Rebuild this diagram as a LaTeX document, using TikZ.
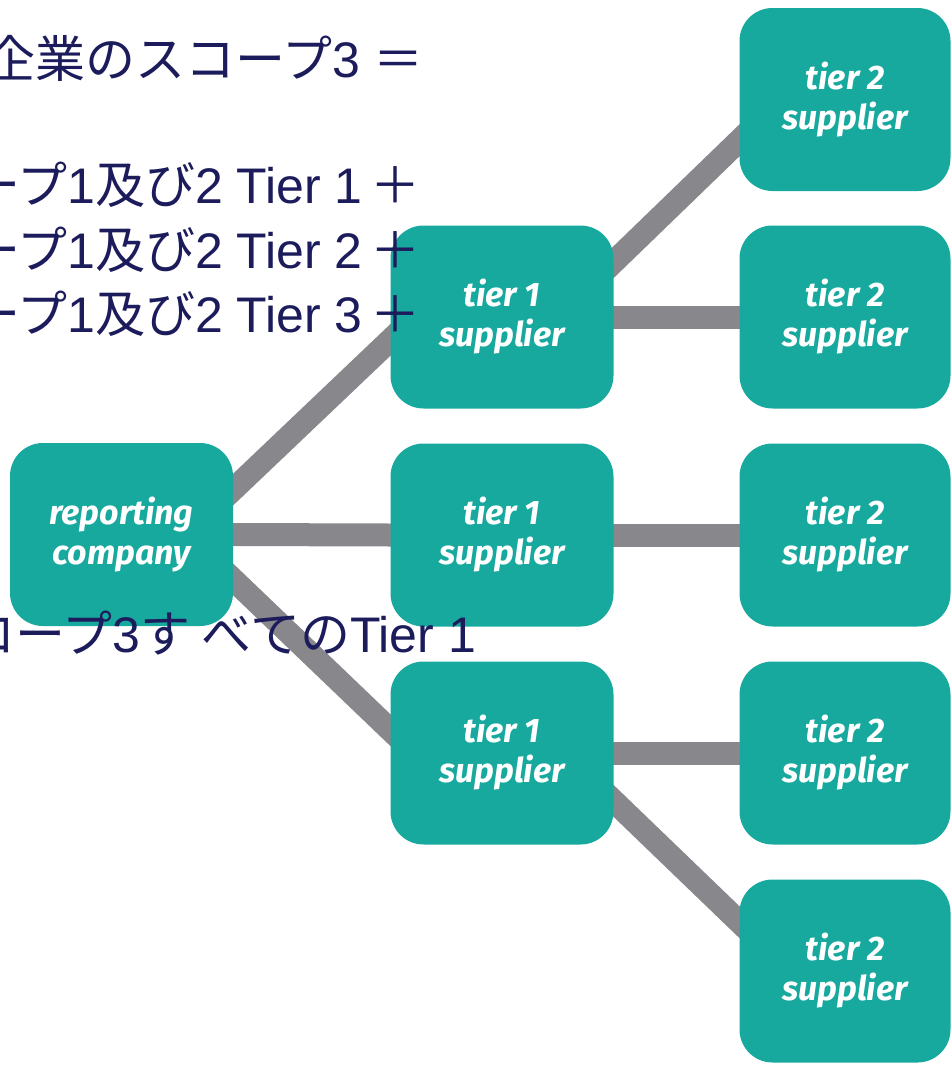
\documentclass[tikz,border=0pt]{standalone}
\usepackage{fontspec}
\usepackage{tikz}
\usetikzlibrary{backgrounds}
\setmainfont{Liberation Sans}
\newfontfamily\jpfont{Noto Sans CJK JP}
\newfontfamily\boxfont{Fira Sans}
\definecolor{boxteal}{RGB}{23, 169, 158}
\definecolor{linkgray}{RGB}{136, 136, 140}
\definecolor{textnavy}{RGB}{28, 28, 92}

\begin{document}
\begin{tikzpicture}[x=1pt,y=-1pt,
  supplier/.style={rectangle, rounded corners=33pt, fill=boxteal, text=white,
    minimum width=223pt, minimum height=183pt, inner sep=0pt, align=center,
    font=\boxfont\bfseries\itshape\fontsize{34}{40}\selectfont},
  link/.style={draw=linkgray, line width=23pt},
  note/.style={anchor=base west, inner sep=0pt, text=textnavy,
    font=\fontsize{50}{60}\selectfont}]
\useasboundingbox (0,0) rectangle (951,1066);
\clip (0,0) rectangle (951,1066);

% Reporting company
\node[supplier] (rc) at (121.5,534.5) {reporting\\company};

% Tier 1 suppliers
\node[supplier] (t1a) at (502,317) {tier 1\\supplier};
\node[supplier] (t1b) at (502,535) {tier 1\\supplier};
\node[supplier] (t1c) at (502,753) {tier 1\\supplier};

% Tier 2 suppliers
\node[supplier, minimum width=211pt] (t2a) at (845,99.5) {tier 2\\supplier};
\node[supplier, minimum width=211pt] (t2b) at (845,317) {tier 2\\supplier};
\node[supplier, minimum width=211pt] (t2c) at (845,535) {tier 2\\supplier};
\node[supplier, minimum width=211pt] (t2d) at (845,753) {tier 2\\supplier};
\node[supplier, minimum width=211pt] (t2e) at (845,971) {tier 2\\supplier};

% Grey links behind the boxes
\begin{scope}[on background layer, shorten <=-25pt, shorten >=-25pt]
\draw[link] ([yshift=45pt]rc.east) -- ([yshift=-23pt]t1a.west);
\draw[link] (rc.east) -- (t1b.west);
\draw[link] ([yshift=-45pt]rc.east) -- ([yshift=23pt]t1c.west);
\draw[link] ([yshift=55pt]t1a.east) -- ([yshift=-41pt]t2a.west);
\draw[link] (t1a.east) -- (t2b.west);
\draw[link] (t1b.east) -- (t2c.west);
\draw[link] (t1c.east) -- (t2d.west);
\draw[link] ([yshift=-48pt]t1c.east) -- ([yshift=49pt]t2e.west);
\end{scope}

% Japanese notes on top
\node[note] (n1) at (-15,77) {{\jpfont 企業のスコープ}3 {\jpfont ＝}};
\node[note] (n2) at (-30,203) {{\jpfont ープ}1{\jpfont 及び}2 Tier 1\hspace{8pt}{\jpfont ＋}};
\node[note] (n3) at (-30,268) {{\jpfont ープ}1{\jpfont 及び}2 Tier 2\hspace{8pt}{\jpfont ＋}};
\node[note] (n4) at (-30,332) {{\jpfont ープ}1{\jpfont 及び}2 Tier 3\hspace{8pt}{\jpfont ＋}};
\node[note] (n5) at (-35,652) {{\jpfont ロープ}3{\jpfont す}\hspace{12pt}{\jpfont べての}Tier 1};
\end{tikzpicture}
\end{document}
